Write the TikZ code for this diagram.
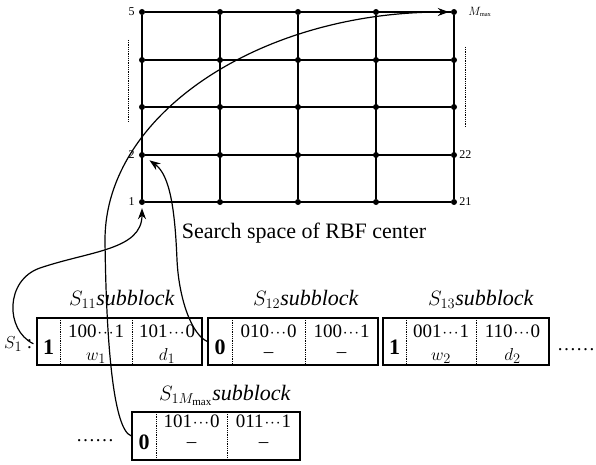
\documentclass[tikz,border=0pt]{standalone}
\usepackage{fontspec}
\setmainfont{Liberation Serif}
\usetikzlibrary{arrows.meta, positioning}
\newcommand{\bitdots}{\hbox to 18pt{\hss$\cdot$\hss$\cdot$\hss$\cdot$\hss}}

\begin{document}
\begin{tikzpicture}[x=1pt, y=-1pt,
  gdot/.style={circle, fill=black, inner sep=0pt, minimum size=6pt},
  glbl/.style={inner sep=1pt, font=\fontsize{12}{14}\selectfont},
  frame/.style={draw, line width=1.1pt, inner sep=0pt, minimum height=47pt},
  divider/.style={densely dotted, line width=0.8pt},
  code/.style={anchor=base, inner sep=1pt, font=\fontsize{19}{21}\selectfont},
  bitcell/.style={anchor=base, inner sep=1pt, font=\fontsize{22}{24}\selectfont\bfseries},
  sublbl/.style={anchor=base, inner sep=1pt, font=\fontsize{22}{24}\selectfont},
  link/.style={line width=1.2pt, -{Stealth[length=11pt, width=8pt]}}]
\useasboundingbox (0,0) rectangle (596,465);

% search space grid
\foreach \c/\x in {1/142, 2/220, 3/298, 4/376, 5/454}
  \foreach \r/\y in {1/202, 2/155, 3/107, 4/60, 5/12}
    \node[gdot] (p\c\r) at (\x,\y) {};
\foreach \r in {1,...,5}
  \draw[line width=1.1pt] (p1\r) -- (p5\r);
\foreach \c in {1,...,5}
  \draw[line width=1.1pt] (p\c1) -- (p\c5);
\node[glbl, left=3pt of p15] (n5) {5};
\node[glbl, left=3pt of p12] (n2) {2};
\node[glbl, left=3pt of p11] (n1) {1};
\node[glbl, right=1pt of p52] (n22) {22};
\node[glbl, right=1pt of p51] (n21) {21};
\node[glbl, right=10pt of p55, font=\fontsize{13}{15}\selectfont] (nmax) {$M_{\scriptscriptstyle\max}$};
\draw[divider] (128,40) -- (128,122);
\draw[divider] (465,47) -- (465,127);
\node[anchor=base, font=\fontsize{22}{24}\selectfont] (title) at (304,238) {Search space of RBF center};

% S11 subblock
\node[frame, minimum width=165pt] (blk1) at (119.5,341.5) {};
\draw[divider] (60,318) -- (60,365);
\draw[divider] (132,318) -- (132,365);
\node[bitcell] (bit1) at (48.5,354) {1};
\node[code] (w1c) at (96,337) {100\bitdots1};
\node[code] (w1) at (96,360) {$w_1$};
\node[code] (d1c) at (167,337) {101\bitdots0};
\node[code] (d1) at (167,360) {$d_1$};
\node[sublbl] (lbl1) at (122,305) {$S_{11}$\textit{subblock}};

% S12 subblock
\node[frame, minimum width=170pt] (blk2) at (293,341.5) {};
\draw[divider] (232,318) -- (232,365);
\draw[divider] (305,318) -- (305,365);
\node[bitcell] (bit2) at (220,354) {0};
\node[code] (w2c) at (268.5,337) {010\bitdots0};
\node[code] (w2) at (268.5,357) {--};
\node[code] (d2c) at (341.5,337) {100\bitdots1};
\node[code] (d2) at (341.5,357) {--};
\node[sublbl] (lbl2) at (306,305) {$S_{12}$\textit{subblock}};

% S13 subblock
\node[frame, minimum width=166pt] (blk3) at (466,341.5) {};
\draw[divider] (406,318) -- (406,365);
\draw[divider] (476,318) -- (476,365);
\node[bitcell] (bit3) at (394.5,354) {1};
\node[code] (w3c) at (441,337) {001\bitdots1};
\node[code] (w3) at (441,360) {$w_2$};
\node[code] (d3c) at (512.5,337) {110\bitdots0};
\node[code] (d3) at (512.5,360) {$d_2$};
\node[sublbl] (lbl3) at (481,305) {$S_{13}$\textit{subblock}};
\node[code] (more1) at (576,350) {\ldots\ldots};

% S1Mmax subblock
\node[frame, minimum width=168pt, minimum height=48pt] (blk4) at (216,436) {};
\draw[divider] (156,412) -- (156,460);
\draw[divider] (227,412) -- (227,460);
\node[bitcell] (bit4) at (144,449) {0};
\node[code] (w4c) at (191.5,427) {101\bitdots0};
\node[code] (w4) at (191.5,447) {--};
\node[code] (d4c) at (263.5,427) {011\bitdots1};
\node[code] (d4) at (263.5,447) {--};
\node[sublbl] (lbl4) at (225,400) {$S_{1M_{\max}}$\textit{subblock}};
\node[code] (more2) at (95,441) {\ldots\ldots};

\node[code, anchor=base west] (s1) at (3,348) {$S_1$ :};

% mapping of subblocks to centers
\draw[link, shorten >=3pt] (s1.east) .. controls (5,330) and (5,280) .. (40,268) .. controls (90,251) and (142,250) .. (p11);
\draw[link, shorten >=6pt] (blk2.west) .. controls (192,335) and (179,300) .. (177,260) .. controls (175,210) and (170,175) .. (p12);
\draw[link, shorten >=2pt] (blk4.west) .. controls (112,430) and (106,330) .. (105,240) .. controls (105,114) and (260,12) .. (p55);
\end{tikzpicture}
\end{document}
